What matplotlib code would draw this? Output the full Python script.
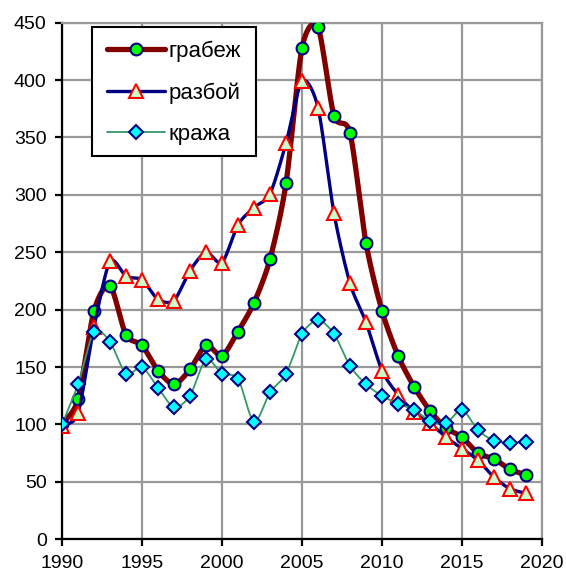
import matplotlib
matplotlib.use("Agg")
import matplotlib.pyplot as plt
import numpy as np
from matplotlib.patches import Rectangle

plt.rcParams['font.family'] = ['Liberation Sans', 'DejaVu Sans']

years = list(range(1990, 2020))
grabezh = [100, 122, 199, 221, 178, 169, 147, 135, 148, 169,
           160, 181, 206, 244, 310, 428, 446, 369, 354, 258,
           199, 160, 133, 112, 97, 89, 75, 70, 61, 56]
razboy = [99, 110, 185, 242, 229, 226, 209, 208, 234, 250,
          241, 274, 289, 301, 345, 399, 376, 284, 223, 189,
          147, 126, 111, 101, 89, 79, 69, 54, 44, 40]
krazha = [100, 135, 181, 172, 144, 150, 132, 115, 125, 157,
          144, 140, 102, 128, 144, 179, 191, 179, 151, 135,
          125, 118, 113, 103, 101, 113, 95, 86, 84, 85]


def smooth(x, y, n=20, k=0.4):
    # cardinal spline through the points, like excel's smoothed line
    x = np.asarray(x, float)
    y = np.asarray(y, float)
    px = np.concatenate([[2 * x[0] - x[1]], x, [2 * x[-1] - x[-2]]])
    py = np.concatenate([[2 * y[0] - y[1]], y, [2 * y[-1] - y[-2]]])
    xs, ys = [], []
    t = np.linspace(0, 1, n, endpoint=False)
    h00 = 2 * t ** 3 - 3 * t ** 2 + 1
    h10 = t ** 3 - 2 * t ** 2 + t
    h01 = -2 * t ** 3 + 3 * t ** 2
    h11 = t ** 3 - t ** 2
    for i in range(1, len(px) - 2):
        for p, out in ((px, xs), (py, ys)):
            m1 = k * (p[i + 1] - p[i - 1])
            m2 = k * (p[i + 2] - p[i])
            out.extend(h00 * p[i] + h10 * m1 + h01 * p[i + 1] + h11 * m2)
    xs.append(x[-1])
    ys.append(y[-1])
    return xs, ys


W, H = 566, 573
fig = plt.figure(figsize=(W / 100, H / 100), dpi=100)
ax = fig.add_axes([62 / W, 33.7 / H, 480 / W, 516.6 / H])

series = [
    ("грабеж", grabezh, "#800000", 3.8, "o", "#00ff00", "#000080", 8.5),
    ("разбой", razboy, "#000080", 2.4, "^", "#ccffcc", "#ff0000", 9.5),
    ("кража", krazha, "#339966", 1.3, "D", "#00ffff", "#000080", 7),
]
handles = []
for i, (name, vals, col, lw, mk, fc, ec, ms) in enumerate(series):
    sx, sy = smooth(years, vals)
    ax.plot(sx, sy, color=col, lw=lw, solid_capstyle='round', zorder=3 + i)
    ax.plot(years, vals, ls='none', marker=mk, ms=ms, mfc=fc, mec=ec,
            mew=1.5, zorder=3 + i)
    h, = ax.plot([], [], color=col, lw=lw, marker=mk, ms=ms, mfc=fc,
                 mec=ec, mew=1.5, solid_capstyle='round')
    handles.append(h)

ax.set_xlim(1990, 2020)
ax.set_ylim(0, 450)
ax.set_xticks(range(1990, 2021, 5))
ax.set_yticks(range(0, 451, 50))
ax.grid(True, color='#999999', lw=1.6)
ax.set_axisbelow(True)
for s in ('top', 'right'):
    ax.spines[s].set_color('#999999')
    ax.spines[s].set_linewidth(1.6)
for s in ('left', 'bottom'):
    ax.spines[s].set_color('black')
    ax.spines[s].set_linewidth(1.6)
ax.tick_params(direction='out', length=5, width=1.6, labelsize=14,
               pad=6, colors='black')

# legend box drawn by hand so it gets the reference width
box = Rectangle((92 / W, 1 - 156 / H), 164 / W, 129 / H,
                transform=fig.transFigure, facecolor='white',
                edgecolor='black', lw=1.5, zorder=9, clip_on=False)
ax.add_patch(box)
leg = ax.legend(handles, [s[0] for s in series], loc='upper left',
                bbox_to_anchor=(94 / W, 1 - 27 / H),
                bbox_transform=fig.transFigure, fontsize=16,
                frameon=False, handlelength=2.6, labelspacing=0.92,
                borderpad=0.6, handletextpad=0.15, borderaxespad=0)
leg.set_zorder(10)

fig.savefig("out.png", dpi=100)
